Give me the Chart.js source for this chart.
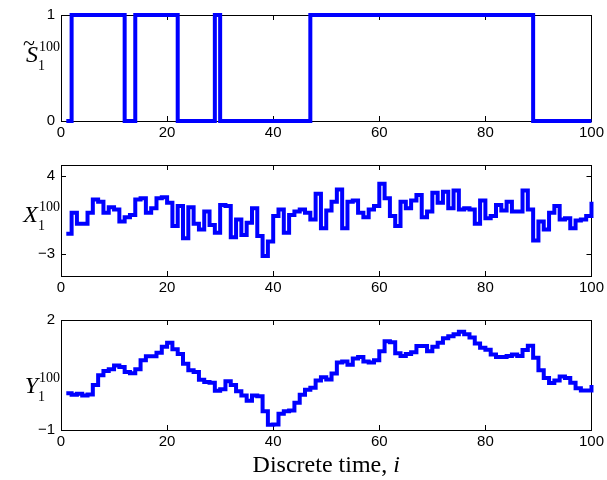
<!DOCTYPE html>
<html>
<head>
<meta charset="utf-8">
<script src="https://cdn.jsdelivr.net/npm/chart.js@4.4.1/dist/chart.umd.min.js"></script>
<style>
  body { margin: 0; background: #fff; }
  #wrap { position: relative; width: 607px; height: 480px; }
  #wrap canvas { position: absolute; left: 0; top: 0; }
</style>
</head>
<body>
<div id="wrap">
  <canvas id="chart-s" width="607" height="480"></canvas>
  <canvas id="chart-x" width="607" height="480"></canvas>
  <canvas id="chart-y" width="607" height="480"></canvas>
</div>
<script>
// Discrete time steps i = 1..100
let timeSteps = Array.from({ length: 100 }, (_, k) => k + 1);
let xTicks = [0, 20, 40, 60, 80, 100];

// Switching signal S (0 / 1)
let sValues = [
  0, 1, 1, 1, 1, 1, 1, 1, 1, 1,
  1, 0, 0, 1, 1, 1, 1, 1, 1, 1,
  1, 0, 0, 0, 0, 0, 0, 0, 1, 0,
  0, 0, 0, 0, 0, 0, 0, 0, 0, 0,
  0, 0, 0, 0, 0, 0, 1, 1, 1, 1,
  1, 1, 1, 1, 1, 1, 1, 1, 1, 1,
  1, 1, 1, 1, 1, 1, 1, 1, 1, 1,
  1, 1, 1, 1, 1, 1, 1, 1, 1, 1,
  1, 1, 1, 1, 1, 1, 1, 1, 0, 0,
  0, 0, 0, 0, 0, 0, 0, 0, 0, 0
];
let sTicks = [0, 1];

// X series
let xValues = [
  -1.2, 0.7, -0.3, -0.3, 0.7, 1.9, 1.7, 0.7, 1.2, 1.0,
  -0.1, 0.3, 0.5, 1.9, 2.0, 0.7, 1.1, 2.0, 2.1, 1.6,
  -0.5, 1.3, -1.6, 1.2, -0.3, -0.8, 0.8, -0.4, -1.1, 1.4,
  1.3, -1.5, 0.1, -1.3, -0.2, 1.1, -1.4, -3.2, -1.9, 0.4,
  1.0, -1.1, 0.5, 0.8, 1.0, 0.7, 0.1, 2.4, -0.7, 0.9,
  1.7, 2.8, -0.7, 1.7, 1.8, 0.7, 0.3, 1.0, 1.3, 3.3,
  2.0, 0.4, -0.5, 1.7, 1.1, 1.8, 2.3, 0.3, 0.8, 2.5,
  1.6, 2.6, 1.1, 2.7, 1.0, 1.1, 1.0, -0.3, 1.8, 0.2,
  0.4, 1.4, 0.9, 1.7, 0.8, 0.8, 2.7, 1.0, -1.8, -0.1,
  -0.8, 0.7, 1.3, 0.1, 0.2, -0.7, 0.0, 0.1, 0.4, 1.7
];
let xSeriesTicks = [-3, 4];

// Y series
let yValues = [
  0.0, -0.04, -0.01, -0.06, -0.03, 0.23, 0.49, 0.61, 0.66, 0.76,
  0.72, 0.58, 0.55, 0.66, 0.90, 1.01, 1.01, 1.11, 1.27, 1.38,
  1.20, 1.07, 0.81, 0.63, 0.58, 0.37, 0.31, 0.29, 0.07, 0.11,
  0.33, 0.23, 0.06, -0.06, -0.20, -0.06, -0.08, -0.49, -0.86, -0.85,
  -0.56, -0.49, -0.47, -0.26, -0.04, 0.10, 0.15, 0.35, 0.44, 0.38,
  0.54, 0.84, 0.87, 0.78, 0.95, 0.99, 0.87, 0.84, 0.90, 1.15,
  1.42, 1.39, 1.09, 1.02, 1.07, 1.12, 1.29, 1.29, 1.15, 1.27,
  1.38, 1.50, 1.56, 1.61, 1.68, 1.61, 1.52, 1.36, 1.24, 1.19,
  1.06, 0.99, 0.99, 1.02, 1.06, 1.02, 1.18, 1.30, 0.97, 0.63,
  0.42, 0.28, 0.35, 0.46, 0.42, 0.29, 0.14, 0.08, 0.08, 0.23
];
let ySeriesTicks = [-1, 2];

Chart.defaults.font.family = '"Liberation Sans", Arial, sans-serif';
Chart.defaults.font.size = 15;
Chart.defaults.color = '#000';

// Frame, inward tick marks and the math-style y label
const framePlugin = {
  id: 'frame',
  beforeDatasetsDraw(chart, args, opts) {
    const ctx = chart.ctx;
    const a = chart.chartArea;
    const sx = chart.scales.x;
    const sy = chart.scales.y;
    ctx.save();
    ctx.strokeStyle = '#000';
    ctx.lineWidth = 1;
    ctx.strokeRect(Math.round(a.left) + 0.5, Math.round(a.top) + 0.5,
      Math.round(a.right - a.left), Math.round(a.bottom - a.top));
    ctx.beginPath();
    sx.ticks.forEach(t => {
      let px = Math.round(sx.getPixelForValue(t.value)) + 0.5;
      ctx.moveTo(px, a.bottom); ctx.lineTo(px, a.bottom - 5);
      ctx.moveTo(px, a.top); ctx.lineTo(px, a.top + 5);
    });
    sy.ticks.forEach(t => {
      let py = Math.round(sy.getPixelForValue(t.value)) + 0.5;
      ctx.moveTo(a.left, py); ctx.lineTo(a.left + 5, py);
      ctx.moveTo(a.right, py); ctx.lineTo(a.right - 5, py);
    });
    ctx.stroke();

    // y label: main letter, optional tilde, subscript 1 and superscript 100
    let lab = opts.label;
    ctx.fillStyle = '#000';
    ctx.textBaseline = 'alphabetic';
    ctx.textAlign = 'right';
    ctx.font = 'italic 24px "Liberation Serif"';
    ctx.fillText(lab.main, 38, lab.y);
    if (lab.tilde) {
      ctx.textAlign = 'center';
      ctx.font = '22px "Liberation Serif"';
      ctx.fillText('~', 29, lab.y - 12);
    }
    ctx.textAlign = 'left';
    ctx.font = '14px "Liberation Serif"';
    ctx.fillText('100', 39, lab.y - 11);
    ctx.fillText('1', 38, lab.y + 8);

    // x title only on the bottom panel
    if (opts.xTitle) {
      let t1 = 'Discrete time, ';
      ctx.font = 'italic 24px "Liberation Serif"';
      let wi = ctx.measureText('i').width;
      ctx.font = '24px "Liberation Serif"';
      let w1 = ctx.measureText(t1).width;
      let cx = (a.left + a.right) / 2;
      let x0 = cx - (w1 + wi) / 2;
      ctx.fillText(t1, x0, 472);
      ctx.font = 'italic 24px "Liberation Serif"';
      ctx.fillText('i', x0 + w1, 472);
    }
    ctx.restore();
  }
};

function makePanel(canvasId, values, yMin, yMax, yTickVals, padTop, padBottom, label, xTitle) {
  let points = timeSteps.map((t, k) => ({ x: t, y: values[k] }));
  return new Chart(canvasId, {
    type: 'line',
    data: {
      datasets: [{
        data: points,
        borderColor: '#0000ff',
        borderWidth: 4,
        pointRadius: 0,
        stepped: 'before',
        borderJoinStyle: 'miter',
        fill: false,
        clip: false
      }]
    },
    options: {
      responsive: false,
      animation: false,
      events: [],
      layout: { padding: { left: 0, right: 14, top: padTop, bottom: padBottom } },
      plugins: {
        legend: { display: false },
        tooltip: { enabled: false },
        frame: { label: label, xTitle: xTitle }
      },
      scales: {
        x: {
          type: 'linear',
          min: 0,
          max: 100,
          grid: { display: false, drawTicks: false },
          border: { display: false },
          ticks: { padding: 3, maxRotation: 0, autoSkip: false },
          afterBuildTicks: axis => { axis.ticks = xTicks.map(v => ({ value: v })); },
          afterFit: axis => { axis.height = 26; }
        },
        y: {
          min: yMin,
          max: yMax,
          grid: { display: false, drawTicks: false },
          border: { display: false },
          ticks: {
            padding: 6,
            // MATLAB-like minus sign
            callback: v => String(v).replace('-', '\u2212')
          },
          afterBuildTicks: axis => { axis.ticks = yTickVals.map(v => ({ value: v })); },
          afterFit: axis => { axis.width = 61; }
        }
      }
    },
    plugins: [framePlugin]
  });
}

// canvas is 480 tall; plot bottom = 480 - padBottom - 26
let chartS = makePanel('chart-s', sValues, 0, 1, sTicks, 12, 333,
  { main: 'S', tilde: true, y: 62 }, false);
let chartX = makePanel('chart-x', xValues, -5, 5, xSeriesTicks, 165, 178,
  { main: 'X', tilde: false, y: 222 }, false);
let chartY = makePanel('chart-y', yValues, -1, 2, ySeriesTicks, 320, 24,
  { main: 'Y', tilde: false, y: 393 }, true);
</script>
</body>
</html>
